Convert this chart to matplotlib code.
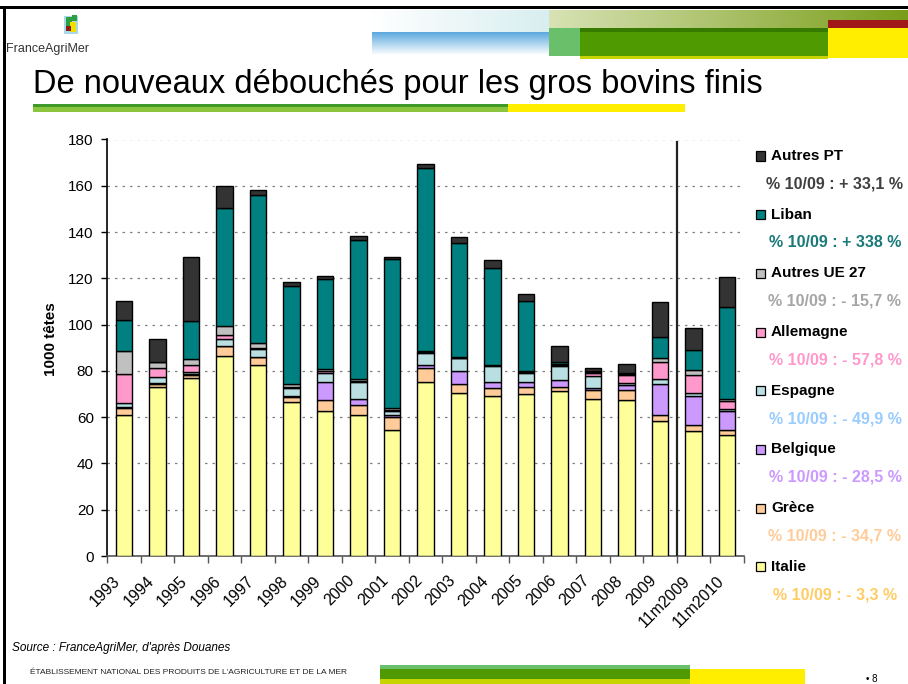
import numpy as np
import matplotlib.pyplot as plt
import matplotlib.transforms as mtransforms
from matplotlib.patches import Rectangle

plt.rcParams['font.family'] = ['Liberation Sans', 'DejaVu Sans']

# data (1000 têtes)
periods = ['1993', '1994', '1995', '1996', '1997', '1998', '1999', '2000', '2001',
           '2002', '2003', '2004', '2005', '2006', '2007', '2008', '2009',
           '11m2009', '11m2010']
italie = [61.1, 73.2, 77.1, 86.6, 82.7, 66.7, 62.8, 61.1, 54.6, 75.4, 70.6, 69.0, 70.2, 71.5, 68.0, 67.6, 58.5, 54.2, 52.4]
grece = [3.0, 1.3, 1.3, 4.3, 3.3, 2.2, 4.8, 4.3, 5.5, 6.0, 3.9, 3.5, 3.0, 1.7, 3.6, 4.0, 2.6, 2.4, 1.9]
belgique = [0.3, 0.1, 0.2, 0.0, 0.1, 0.4, 7.8, 2.6, 0.7, 1.3, 5.3, 2.9, 2.2, 2.7, 0.9, 2.5, 13.4, 12.4, 8.5]
espagne = [1.7, 2.6, 0.9, 3.0, 3.2, 3.5, 3.9, 7.2, 1.9, 5.2, 5.8, 6.9, 3.9, 6.4, 5.3, 0.8, 2.0, 1.6, 0.9]
allemagne = [12.5, 3.9, 3.2, 1.8, 0.7, 0.1, 0.7, 0.3, 0.2, 0.2, 0.1, 0.1, 0.2, 0.2, 1.3, 3.3, 7.5, 7.8, 3.2]
autres_ue = [10.1, 2.6, 2.6, 3.9, 1.9, 1.4, 0.7, 0.9, 1.1, 0.4, 0.1, 0.2, 0.5, 0.4, 0.6, 0.5, 1.6, 1.9, 1.1]
liban = [13.1, 0.2, 16.3, 50.8, 64.0, 42.2, 38.8, 60.2, 64.4, 79.2, 49.3, 41.9, 30.4, 1.1, 0.2, 0.2, 9.2, 8.9, 39.6]
autres_pt = [8.3, 9.7, 27.8, 9.7, 2.4, 1.8, 1.7, 1.9, 0.9, 1.5, 2.6, 3.5, 3.0, 6.9, 1.3, 4.0, 15.1, 9.5, 13.1]

series_names = ['Italie', 'Grèce', 'Belgique', 'Espagne', 'Allemagne', 'Autres UE 27', 'Liban', 'Autres PT']
series_vals = [italie, grece, belgique, espagne, allemagne, autres_ue, liban, autres_pt]
bar_colors = ['#ffff99', '#ffcc99', '#cc99ff', '#b9dfe3', '#ff99cc', '#c0c0c0', '#008080', '#333333']
pct_labels = ['% 10/09 : - 3,3 %', '% 10/09 : - 34,7 %', '% 10/09 : - 28,5 %', '% 10/09 : - 49,9 %',
              '% 10/09 : - 57,8 %', '% 10/09 : - 15,7 %', '% 10/09 : + 338 %', '% 10/09 : + 33,1 %']
pct_colors = ['#ffcc66', '#ffcc99', '#cc99ff', '#99ccff', '#ff99cc', '#a6a6a6', '#1a7a7a', '#404040']

W, H = 908, 684
fig = plt.figure(figsize=(W / 100, H / 100), dpi=100)


def box(x0, y0, x1, y1, color, **kw):
    # rectangle given in pixels from the top-left corner
    fig.add_artist(Rectangle((x0 / W, 1 - y1 / H), (x1 - x0) / W, (y1 - y0) / H,
                             transform=fig.transFigure, facecolor=color, edgecolor='none', **kw))


def grad_box(x0, y0, x1, y1, c0, c1, horizontal=True):
    gax = fig.add_axes([x0 / W, 1 - y1 / H, (x1 - x0) / W, (y1 - y0) / H])
    a = np.array(plt.matplotlib.colors.to_rgb(c0))
    b = np.array(plt.matplotlib.colors.to_rgb(c1))
    t = np.linspace(0, 1, 100)
    img = a[None, :] * (1 - t[:, None]) + b[None, :] * t[:, None]
    img = img[None, :, :] if horizontal else img[:, None, :]
    gax.imshow(img, aspect='auto', interpolation='bilinear')
    gax.axis('off')


# slide frame
box(0, 6, W, 9, 'black')
box(3, 6, 6, H, 'black')

# header decoration
grad_box(372, 10, 549, 32, '#ffffff', '#d8eef0')
grad_box(372, 32, 549, 55, '#5aa8de', '#ffffff', horizontal=False)
grad_box(549, 10, W, 28, '#d8e2b4', '#7a9e1a')
box(549, 28, 580, 56, '#6abf6a')
box(580, 28, 828, 57, '#4f9a00')
box(580, 28, 828, 32, '#377a00')
box(580, 56, 828, 59, '#c8d400')
box(828, 20, W, 28, '#a01818')
box(828, 28, W, 58, '#ffee00')

# logo
box(64, 16, 78, 34, '#a8d8ea')
box(66, 17, 72, 26, '#2e9e3e')
box(70, 22, 76, 32, '#f0e000')
box(66, 26, 71, 31, '#8b1a1a')
box(72, 15, 77, 21, '#2e9e3e')
fig.text(6 / W, 1 - 49 / H, 'FranceAgriMer', fontsize=9, color='#333333', va='center', ha='left')

# title and underline
fig.text(33 / W, 1 - 85 / H, 'De nouveaux débouchés pour les gros bovins finis',
         fontsize=23.5, va='center', ha='left')
box(33, 104, 508, 107, '#3f9a2a')
box(33, 107, 508, 112, '#8cc63f')
box(508, 104, 685, 112, '#ffee00')

# chart
ax = fig.add_axes([107 / W, 1 - 556 / H, 637 / W, 416.5 / H])
x = np.arange(len(periods))
bottom = np.zeros(len(periods))
for vals, col in zip(series_vals, bar_colors):
    ax.bar(x, vals, width=0.49, bottom=bottom, color=col, edgecolor='black', linewidth=1, zorder=3)
    bottom += np.array(vals)

ax.set_xlim(-0.5, len(periods) - 0.5)
ax.set_ylim(0, 180)
ax.set_yticks(np.arange(0, 181, 20))
ax.tick_params(axis='y', labelsize=11, length=4.5, width=1, direction='out', pad=5)
ax.grid(axis='y', color='#808080', linestyle=(0, (2, 4)), linewidth=0.9, zorder=0)
ax.set_axisbelow(True)
for s in ['top', 'right']:
    ax.spines[s].set_visible(False)
ax.spines['left'].set_linewidth(1.2)
ax.spines['bottom'].set_linewidth(1.2)
ax.spines['bottom'].set_color('#555555')

ax.set_xticks(x)
ax.set_xticklabels(periods, rotation=45, ha='right', va='center', rotation_mode='anchor', fontsize=11.5)
ax.tick_params(axis='x', which='major', length=0, pad=16)
ax.set_xticks(np.arange(-0.5, len(periods)), minor=True)
ax.tick_params(axis='x', which='minor', length=5, width=1, color='#555555')
shift = mtransforms.ScaledTranslation(-6 / 100, 0, fig.dpi_scale_trans)
for lab in ax.get_xticklabels():
    lab.set_transform(lab.get_transform() + shift)

ax.axvline(16.5, ymax=0.995, color='#222222', linewidth=1.6, zorder=4)

ax.set_ylabel('1000 têtes', fontsize=11, fontweight='bold')
ax.yaxis.set_label_coords(-49 / 637, 0.52)

# legend with change rates
for i, k in enumerate(range(len(series_names) - 1, -1, -1)):
    ny = 156 + i * 58.7
    box(756, ny - 4.5, 765, ny + 4.5, bar_colors[k])
    fig.add_artist(Rectangle((756 / W, 1 - (ny + 4.5) / H), 9 / W, 9 / H, transform=fig.transFigure,
                             facecolor='none', edgecolor='black', linewidth=0.9))
    fig.text(771 / W, 1 - ny / H, series_names[k], fontsize=11, fontweight='bold', va='center', ha='left')
    fig.text(835 / W, 1 - (ny + 28) / H, pct_labels[k], fontsize=11.5, fontweight='bold',
             color=pct_colors[k], va='center', ha='center')

# footer
fig.text(12 / W, 1 - 648 / H, "Source : FranceAgriMer, d'après Douanes", fontsize=8.5, style='italic',
         va='center', ha='left')
fig.text(30 / W, 1 - 673 / H, "ÉTABLISSEMENT NATIONAL DES PRODUITS DE L'AGRICULTURE ET DE LA MER",
         fontsize=6, va='center', ha='left', color='#222222')
box(380, 665, 690, 669, '#6abf6a')
box(380, 669, 690, 679, '#4f9a00')
box(380, 679, 690, H, '#c8d400')
box(690, 669, 805, H, '#ffee00')
fig.text(866 / W, 1 - 679 / H, '• 8', fontsize=7, va='center', ha='left')

fig.savefig('out.png', dpi=100)
